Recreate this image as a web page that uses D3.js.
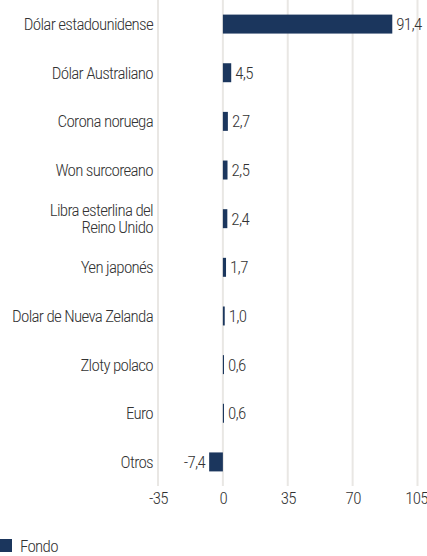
<!DOCTYPE html>
<html><head><meta charset="utf-8">
<script src="https://cdn.jsdelivr.net/npm/d3@7"></script>
<style>
body{margin:0;background:#fff;}
text{font-family:"Roboto Condensed","Liberation Sans Narrow","DejaVu Sans Condensed",sans-serif;font-weight:300;letter-spacing:-0.7px;}
</style></head>
<body><svg id="c" width="427" height="556"></svg>
<script>
const categories = ["Dólar estadounidense","Dólar Australiano","Corona noruega","Won surcoreano","Libra esterlina del|Reino Unido","Yen japonés","Dolar de Nueva Zelanda","Zloty polaco","Euro","Otros"];
const values = [91.4,4.5,2.7,2.5,2.4,1.7,1.0,0.6,0.6,-7.4];
const ticks = [-35,0,35,70,105];
const seriesName = "Fondo";

const svg = d3.select("#c");
const x = d3.scaleLinear().domain([-35,105]).range([158,417.5]);
const y = d3.scaleBand().domain(categories).range([0,486]).paddingInner(0.61).paddingOuter(0.3);
const color = "#1b365d";
const txt = "#333";
const fs = 17;
const fmt = v => d3.format(".1f")(v).replace(".",",").replace("−","-");

// grid
svg.append("g").selectAll("line").data(ticks).join("line")
  .attr("x1",d=>x(d)).attr("x2",d=>x(d)).attr("y1",0).attr("y2",486)
  .attr("stroke","#e9e7e4").attr("stroke-width",2);

// axis labels
const ax = d3.axisBottom(x).tickValues(ticks).tickSize(0).tickPadding(0).tickFormat(d=>String(d));
const ag = svg.append("g").attr("transform","translate(0,492)").call(ax);
ag.select(".domain").remove();
ag.selectAll("text").attr("font-size",fs).attr("fill",txt).attr("dy","0.71em")
  .style("font-family",'"Roboto Condensed","Liberation Sans Narrow","DejaVu Sans Condensed",sans-serif')
  .style("font-weight",300).style("letter-spacing","-0.7px");
ag.selectAll(".tick").filter(d=>d===105).select("text").attr("dx",-1.5);

// bars
svg.append("g").selectAll("rect").data(values).join("rect")
  .attr("x",(d)=>x(Math.min(0,d))).attr("width",d=>Math.abs(x(d)-x(0)))
  .attr("y",(d,i)=>y(categories[i])).attr("height",y.bandwidth())
  .attr("fill",color);

// value labels
svg.append("g").selectAll("text").data(values).join("text")
  .attr("x",d=> d>=0 ? x(d)+4 : x(d)-4)
  .attr("text-anchor",d=> d>=0 ? "start":"end")
  .attr("y",(d,i)=>y(categories[i])+y.bandwidth()/2)
  .attr("dy","0.35em").attr("font-size",fs).attr("fill",txt)
  .text(fmt);

// category labels
const cg = svg.append("g");
categories.forEach((c,i)=>{
  const lines = c.split("|");
  const cy = y(c)+y.bandwidth()/2;
  const lh = 16.5;
  const t = cg.append("text").attr("x",153).attr("text-anchor","end")
    .attr("font-size",fs).attr("fill",txt);
  lines.forEach((l,j)=>{
    t.append("tspan").attr("x",153)
      .attr("y",cy + (j-(lines.length-1)/2)*lh).attr("dy","0.35em").text(l);
  });
});

// legend
svg.append("rect").attr("x",0).attr("y",539).attr("width",12).attr("height",13).attr("fill",color);
svg.append("text").attr("x",20).attr("y",546).attr("dy","0.35em").attr("font-size",fs).attr("fill",txt).text(seriesName);
</script></body></html>
